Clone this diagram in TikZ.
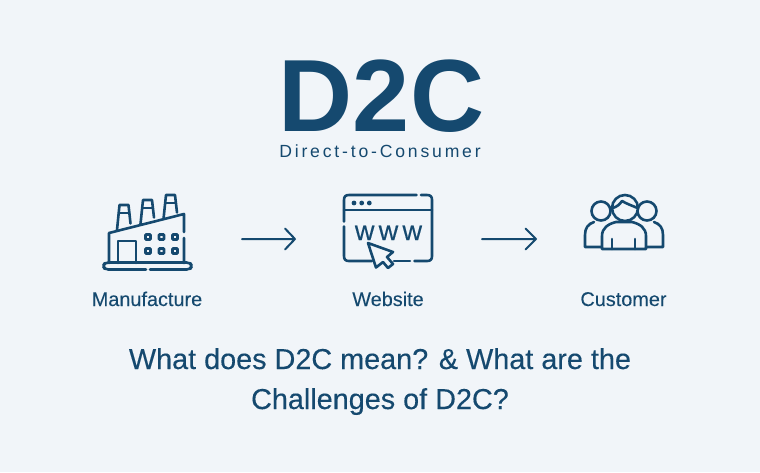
\documentclass[tikz,border=0pt]{standalone}
\usepackage{fontspec}
\setmainfont{Liberation Sans}
\definecolor{bgc}{HTML}{F1F5F9}
\definecolor{navy}{HTML}{15496F}
\tikzset{
  ico/.style={draw=navy,line width=1.95pt,line cap=round,line join=round},
  lab/.style={text=navy,inner sep=0pt,anchor=base,font=\fontsize{14.9pt}{17pt}\selectfont\addfontfeature{FakeBold=0.12}},
  head/.style={text=navy,inner sep=0pt,anchor=base,font=\fontsize{21.6pt}{24pt}\selectfont\addfontfeature{FakeBold=0.25}},
  flow/.style={draw=navy,line width=1.5pt,line cap=round,line join=round}
}
\begin{document}
\begin{tikzpicture}[x=0.75pt,y=-0.75pt]
\path[use as bounding box,fill=bgc] (0,0) rectangle (760,472);
% title
\node[text=navy,inner sep=0pt,anchor=base] (logo) at (381.5,131) {\fontsize{77pt}{77pt}\selectfont\bfseries D2C};
\node[text=navy,inner sep=0pt,anchor=base] (sub) at (380,157) {\fontsize{13.2pt}{16pt}\selectfont\addfontfeature{LetterSpace=16}Direct-to-Consumer};
% factory
\draw[ico] (109,263) -- (109,233) -- (184,214) -- (184,232) (184,238) -- (184,263);
\draw[ico] (118,263) -- (118,241) -- (136,241) -- (136,263);
\draw[ico,rounded corners=2.5pt] (146,269.5) -- (105,269.5) -- (103,266) -- (105,262.5) -- (190,262.5) -- (192,266) -- (190,269.5) -- (150,269.5);
\foreach \xx in {148,161.5,175}\foreach \yy in {237,251}{
  \draw[draw=navy,line width=1.9pt,rounded corners=0.5pt] (\xx-2.5,\yy-2.5) rectangle (\xx+2.5,\yy+2.5);
}
\foreach \xa/\ya/\yb in {117/230/205,140.5/224/200,163.5/219/195}{
  \draw[ico] (\xa,\ya) -- (\xa+2.5,\yb) -- (\xa+11.5,\yb) -- (\xa+13.5,\ya-6.5);
  \draw[ico] (\xa+2,\yb+8) -- (\xa+12,\yb+8);
}
% arrows
\coordinate (a1s) at (242,239); \coordinate (a1e) at (295,239);
\draw[flow] (a1s) -- (a1e) (285,228.5) -- (a1e) -- (285,249.5);
\coordinate (a2s) at (482,239); \coordinate (a2e) at (536,239);
\draw[flow] (a2s) -- (a2e) (525.5,228.5) -- (a2e) -- (525.5,249.5);
% browser
\draw[ico] (344,226.5) -- (344,256) .. controls (344,259.5) and (345.5,261) .. (349,261) -- (372,261);
\draw[ico] (394,261) -- (410,261);
\draw[ico] (414.5,261) -- (427,261) .. controls (430.5,261) and (432,259.5) .. (432,256) -- (432,200) .. controls (432,196.5) and (430.5,195) .. (427,195) -- (421,195);
\draw[ico] (416.5,195) -- (349,195) .. controls (345.5,195) and (344,196.5) .. (344,200) -- (344,221.5);
\draw[ico] (344,210) -- (432,210);
\foreach \xx in {354,361.7,369.3}{\fill[navy] (\xx,203) circle[radius=2.4];}
\node[text=navy,inner sep=0pt,anchor=base] (www) at (388.5,240) {\fontsize{20.25pt}{22pt}\selectfont\addfontfeature{LetterSpace=16,FakeBold=0.3}www};
\draw[ico] (368,243) -- (393,252) -- (387,257) -- (393,264) -- (388,268) -- (383,262) -- (376,267.5) -- cycle;
% people
\draw[ico] (601,211) circle[radius=9.5];
\draw[ico] (647,211) circle[radius=9.5];
\draw[ico] (602,247) -- (585,247) -- (585,235) .. controls (585,228) and (588,224) .. (594,222);
\draw[ico] (646,247) -- (663,247) -- (663,235) .. controls (663,228) and (660,224) .. (654,222);
\draw[ico,fill=bgc] (602,249) -- (602,236) .. controls (602,228) and (608,224) .. (616,222) -- (632,222) .. controls (640,224) and (646,228) .. (646,236) -- (646,249) -- cycle;
\draw[ico] (612,239) -- (612,249) (635,239) -- (635,249);
\draw[ico,fill=bgc] (625,208) circle[radius=13];
\draw[ico] (612.5,208) .. controls (617,207) and (620,204) .. (622,201) .. controls (627,204) and (633,206) .. (637.5,208);
% labels
\node[lab] (l1) at (147,306) {Manufacture};
\node[lab] (l2) at (388,306) {Website};
\node[lab] (l3) at (623.5,306) {Customer};
\node[head] (h1) at (380,369) {What does D2C mean? \& What are the};
\node[head] (h2) at (380,409) {Challenges of D2C?};
\end{tikzpicture}
\end{document}
